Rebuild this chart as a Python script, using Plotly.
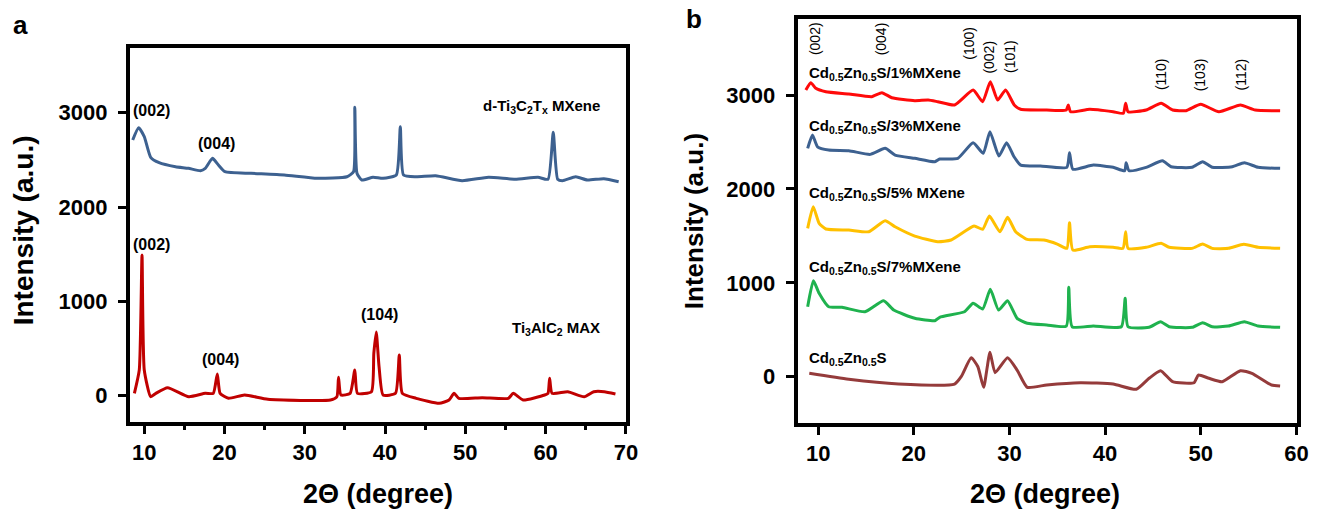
import plotly.graph_objects as go

# ---------------- Panel a data ----------------
mxene_x = [8.56, 9.3, 10.0, 10.8, 11.85, 13.9, 15.5, 17.0, 17.6, 18.5, 19.24, 20.06, 23.3, 27.45, 31.55,
           35.25, 36.07, 36.23, 36.5, 37.1, 38.5, 39.75, 41.4, 41.9, 42.3, 43.85, 46.3, 49.6, 52.9,
           56.2, 59.05, 60.3, 60.95, 61.5, 62.1, 63.75, 65.2, 67.25, 69.1]
mxene_y = [2712, 2842, 2747, 2528, 2471, 2428, 2411, 2386, 2411, 2517, 2446, 2375, 2358, 2340, 2305,
           2322, 2375, 3058, 2358, 2287, 2316, 2305, 2340, 2853, 2340, 2322, 2333, 2280, 2316,
           2295, 2316, 2295, 2793, 2295, 2280, 2322, 2287, 2301, 2269]

max_x = [8.77, 9.38, 9.72, 10.0, 10.8, 11.45, 12.9, 15.55, 17.6, 18.6, 19.1, 19.45, 20.5, 22.5, 25.4,
         33.2, 34.0, 34.2, 34.5, 35.65, 36.23, 36.56, 38.3, 38.6, 38.9, 39.25, 39.75, 41.3, 41.77,
         42.15, 43.87, 46.74, 47.97, 48.6, 49.2, 52.1, 55.36, 55.97, 57.2, 59.88, 60.3, 60.5, 60.8,
         62.76, 64.8, 66.0, 67.3, 68.7]
max_y = [25, 273, 1492, 273, -11, 25, 85, -11, 25, 25, 230, 25, -28, 7, -38,
         -46, -11, 195, 7, 25, 273, 25, 42, 450, 676, 308, 7, 25, 432,
         25, -28, -81, -46, 25, -28, -21, -28, 25, -46, 7, 25, 184, 25,
         42, -11, 42, 42, 18]

# ---------------- Panel b data ----------------
p1_x = [8.71, 9.23, 9.75, 10.8, 13.2, 15.6, 16.66, 17.7, 20.1, 21.5, 22.5, 24.26, 26.2, 27.2, 28.0,
        28.76, 29.6, 30.5, 31.17, 33.9, 35.94, 36.15, 36.4, 38.4, 40.84, 41.9, 42.15, 42.4, 44.3,
        45.86, 47.06, 48.45, 50.0, 51.9, 54.15, 55.7, 58.3]
p1_y = [3053, 3131, 3071, 3035, 3011, 2982, 3025, 2971, 2939, 2947, 2929, 2894, 3053, 2929, 3142,
        2947, 3053, 2894, 2848, 2840, 2840, 2894, 2822, 2848, 2822, 2805, 2912, 2822, 2840,
        2912, 2840, 2833, 2901, 2822, 2894, 2840, 2833]

p3_x = [8.9, 9.4, 9.93, 11.1, 13.2, 15.45, 17.0, 18.04, 20.1, 22.2, 22.7, 24.6, 26.2, 27.26, 27.96,
        28.9, 29.7, 30.48, 31.17, 33.24, 36.0, 36.28, 36.63, 38.77, 40.84, 42.05, 42.2, 42.5, 44.3,
        46.0, 46.9, 49.1, 50.2, 51.2, 53.3, 54.56, 56.0, 58.3]
p3_y = [2432, 2574, 2449, 2414, 2407, 2368, 2432, 2361, 2326, 2290, 2318, 2326, 2492, 2379, 2609,
        2350, 2492, 2343, 2254, 2244, 2230, 2385, 2209, 2254, 2230, 2194, 2279, 2194, 2230,
        2300, 2236, 2230, 2290, 2230, 2236, 2279, 2230, 2219]

p5_x = [8.9, 9.48, 10.1, 10.8, 13.2, 15.3, 17.0, 18.04, 20.1, 22.5, 23.9, 26.3, 27.2, 27.9, 29.0,
        29.8, 30.65, 31.86, 33.6, 35.0, 36.0, 36.28, 36.63, 38.4, 40.84, 41.87, 42.15, 42.4, 44.3,
        45.86, 46.7, 49.1, 50.2, 51.2, 52.9, 54.5, 56.0, 58.3]
p5_y = [1580, 1810, 1634, 1573, 1562, 1544, 1661, 1597, 1498, 1438, 1456, 1605, 1570, 1711, 1544,
        1697, 1544, 1463, 1456, 1413, 1367, 1640, 1349, 1384, 1378, 1367, 1544, 1367, 1378,
        1421, 1378, 1367, 1413, 1367, 1367, 1410, 1378, 1367]

p7_x = [8.9, 9.5, 10.1, 11.1, 12.5, 14.9, 16.84, 17.9, 20.1, 22.2, 22.7, 25.3, 26.2, 27.2, 28.0,
        28.86, 29.8, 30.8, 31.86, 33.9, 35.94, 36.2, 36.56, 38.77, 41.7, 42.1, 42.4, 44.6,
        45.8, 46.7, 49.1, 50.2, 51.2, 52.9, 54.56, 56.0, 58.3]
p7_y = [745, 1022, 888, 745, 739, 692, 809, 710, 622, 596, 633, 692, 782, 721, 931,
        710, 809, 622, 569, 551, 540, 952, 532, 540, 532, 835, 532, 526,
        586, 532, 526, 575, 532, 540, 586, 540, 526]

p0_x = [9.07, 13.2, 18.4, 24.26, 24.95, 26.0, 26.7, 27.3, 27.96, 28.5, 29.8, 30.8, 31.86, 33.9,
        37.4, 40.84, 43.26, 44.6, 45.8, 47.06, 49.3, 49.75, 50.86, 52.24, 54.15, 55.35, 57.4, 58.3]
p0_y = [36, -28, -78, -78, 0, 202, 106, -113, 260, 43, 202, 71, -113, -88,
        -64, -78, -134, -17, 64, -53, -64, 18, -17, -53, 64, 36, -88, -99]

# labels
a_peak_labels = ["(002)", "(004)", "(002)", "(004)", "(104)"]
a_peak_x = [10.86, 19.0, 10.86, 19.5, 39.25]
a_peak_y = [3019, 2674, 1598, 379, 866]
a_names = ["d-Ti<sub>3</sub>C<sub>2</sub>T<sub>x</sub> MXene", "Ti<sub>3</sub>AlC<sub>2</sub> MAX"]
a_names_x = [59.5, 61.3]
a_names_y = [3065, 712]

b_hkl = ["(002)", "(004)", "(100)", "(002)", "(101)", "(110)", "(103)", "(112)"]
b_hkl_x = [9.67, 16.6, 25.8, 27.85, 30.0, 45.8, 49.9, 54.2]
b_hkl_y = [3596, 3596, 3550, 3408, 3410, 3218, 3218, 3218]

sub = "Cd<sub>0.5</sub>Zn<sub>0.5</sub>S"
b_names = [sub + "/1%MXene", sub + "/3%MXene", sub + "/5% MXene", sub + "/7%MXene", sub]
b_names_y = [3229, 2665, 1953, 1163, 196]
b_names_x = 8.79

FONT = "Liberation Sans, Arial, sans-serif"

fig = go.Figure()
line_kw = dict(shape="spline", smoothing=0.5)
fig.add_trace(go.Scatter(x=mxene_x, y=mxene_y, mode="lines", line=dict(color="#3d6190", width=3, **line_kw),
                         xaxis="x", yaxis="y", showlegend=False, hoverinfo="skip"))
fig.add_trace(go.Scatter(x=max_x, y=max_y, mode="lines", line=dict(color="#c00000", width=3, **line_kw),
                         xaxis="x", yaxis="y", showlegend=False, hoverinfo="skip"))

b_series = [(p1_x, p1_y, "#ff0a0a"), (p3_x, p3_y, "#3d6190"), (p5_x, p5_y, "#ffc000"),
            (p7_x, p7_y, "#1fb24e"), (p0_x, p0_y, "#953b3b")]
for xs, ys, c in b_series:
    fig.add_trace(go.Scatter(x=xs, y=ys, mode="lines", line=dict(color=c, width=3, **line_kw),
                             xaxis="x2", yaxis="y2", showlegend=False, hoverinfo="skip"))

tickfont = dict(family=FONT, size=22, color="black", weight="bold")
axis_common = dict(showline=True, mirror=True, linecolor="black", linewidth=4, ticks="outside",
                   tickwidth=3, tickcolor="black", ticklen=8, showgrid=False, zeroline=False,
                   tickfont=tickfont)

annotations = []
for t, x, y in zip(a_peak_labels, a_peak_x, a_peak_y):
    annotations.append(dict(text=t, x=x, y=y, xref="x", yref="y", showarrow=False,
                            xanchor="center", yanchor="middle",
                            font=dict(family=FONT, size=16, color="black", weight="bold")))
for t, x, y in zip(a_names, a_names_x, a_names_y):
    annotations.append(dict(text=t, x=x, y=y, xref="x", yref="y", showarrow=False,
                            xanchor="center", yanchor="middle",
                            font=dict(family=FONT, size=15, color="black", weight="bold")))
for t, x, y in zip(b_hkl, b_hkl_x, b_hkl_y):
    annotations.append(dict(text=t, x=x, y=y, xref="x2", yref="y2", showarrow=False, textangle=-90,
                            xanchor="center", yanchor="middle",
                            font=dict(family=FONT, size=14, color="black")))
for t, y in zip(b_names, b_names_y):
    annotations.append(dict(text=t, x=b_names_x, y=y, xref="x2", yref="y2", showarrow=False,
                            xanchor="left", yanchor="middle",
                            font=dict(family=FONT, size=15, color="black", weight="bold")))

# axis titles & panel letters
def paper_text(text, px, py, size, angle=0):
    return dict(text=text, x=px / 1326, y=1 - py / 509, xref="paper", yref="paper", showarrow=False,
                xanchor="center", yanchor="middle", textangle=angle,
                font=dict(family=FONT, size=size, color="black", weight="bold"))

annotations += [
    paper_text("Intensity (a.u.)", 23.5, 230, 28, -90),
    paper_text("Intensity (a.u.)", 700, 221.5, 26, -90),
    paper_text("2Θ (degree)", 381.5, 494, 27),
    paper_text("2Θ (degree)", 1055, 494, 27),
    paper_text("a", 21, 25, 26),
    paper_text("b", 700, 19, 26),
]

fig.update_layout(
    width=1326, height=509,
    margin=dict(l=0, r=0, t=0, b=0),
    paper_bgcolor="white", plot_bgcolor="white",
    hovermode=False,
    xaxis=dict(domain=[131 / 1326, 632 / 1326], range=[8.2, 70.05], tickvals=[10, 20, 30, 40, 50, 60, 70],
               minor=dict(tickvals=[15, 25, 35, 45, 55, 65], ticklen=4, tickwidth=3, tickcolor="black",
                          ticks="outside"),
               anchor="y", **axis_common),
    yaxis=dict(domain=[1 - 422 / 509, 1 - 48 / 509], range=[-279, 3687], tickvals=[0, 1000, 2000, 3000],
               anchor="x", ticklabelstandoff=6, **axis_common),
    xaxis2=dict(domain=[805 / 1326, 1308.5 / 1326], range=[7.86, 60.03], tickvals=[10, 20, 30, 40, 50, 60],
                anchor="y2", **axis_common),
    yaxis2=dict(domain=[1 - 423 / 509, 1 - 18.5 / 509], range=[-493, 3815], tickvals=[0, 1000, 2000, 3000],
                anchor="x2", ticklabelstandoff=6, **axis_common),
    annotations=annotations,
)

page_js = (
    "document.documentElement.style.margin='0';document.body.style.margin='0';"
    "document.documentElement.style.overflow='hidden';document.body.style.overflow='hidden';"
)
fig.write_html("out.html", config={"displayModeBar": False}, post_script=page_js)
